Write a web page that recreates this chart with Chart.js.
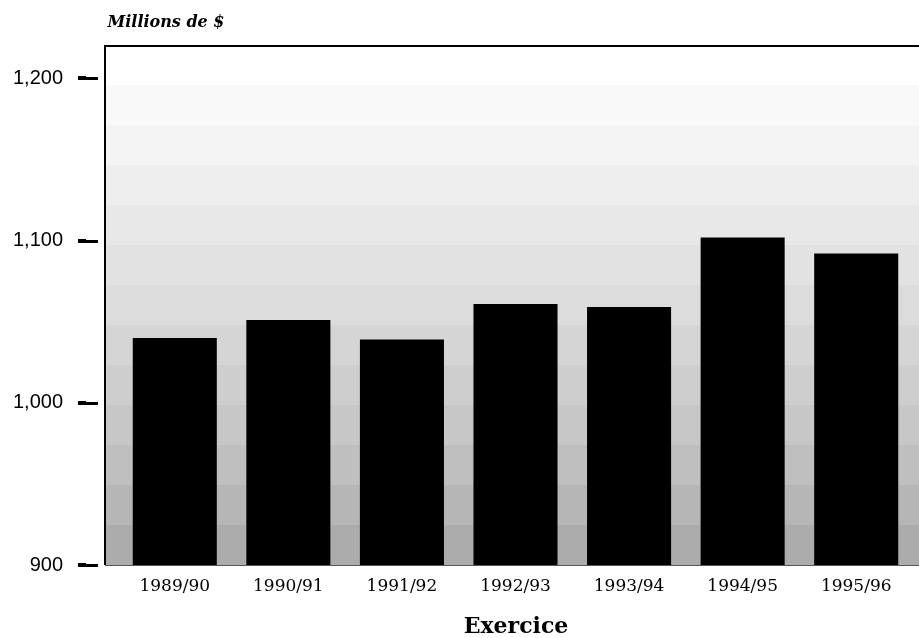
<!DOCTYPE html>
<html>
<head>
<meta charset="utf-8">
<script src="https://cdn.jsdelivr.net/npm/chart.js@4/dist/chart.umd.min.js"></script>
<style>
  html, body { margin: 0; padding: 0; background: #ffffff; }
  #c { display: block; }
</style>
</head>
<body>
<canvas id="c" width="919" height="638"></canvas>
<script>
// ---- data ----
const categories = ['1989/90', '1990/91', '1991/92', '1992/93', '1993/94', '1994/95', '1995/96'];
const values = [1040, 1051, 1039, 1061, 1059, 1102, 1092];
const yTickValues = [900, 1000, 1100, 1200];
const yTickLabels = ['900', '1,000', '1,100', '1,200'];
const yUnitLabel = 'Millions de $';
const xTitle = 'Exercice';

const FRAME_LEFT = 105;

const decor = {
  id: 'decor',
  beforeDatasetsDraw(chart) {
    const ctx = chart.ctx;
    const a = chart.chartArea;
    const right = chart.width;
    ctx.save();
    const bandTop = 85;
    const nb = 12;
    const bh = (a.bottom - bandTop) / nb;
    const shades = [249, 244, 238, 232, 226, 220, 213, 206, 199, 191, 182, 172];
    ctx.fillStyle = '#ffffff';
    ctx.fillRect(FRAME_LEFT, a.top, right - FRAME_LEFT, bandTop - a.top);
    for (let i = 0; i < nb; i++) {
      const s = shades[i];
      ctx.fillStyle = `rgb(${s},${s},${s})`;
      ctx.fillRect(FRAME_LEFT, bandTop + i * bh, right - FRAME_LEFT, bh + 0.5);
    }
    ctx.restore();
  },
  afterDraw(chart) {
    const ctx = chart.ctx;
    const a = chart.chartArea;
    const right = chart.width;
    const ys = chart.scales.y;
    ctx.save();
    ctx.strokeStyle = '#000';
    ctx.lineWidth = 2;
    ctx.beginPath();
    ctx.moveTo(FRAME_LEFT, a.bottom);
    ctx.lineTo(FRAME_LEFT, a.top);
    ctx.lineTo(right, a.top);
    ctx.stroke();
    ctx.strokeStyle = '#555';
    ctx.lineWidth = 1;
    ctx.beginPath();
    ctx.moveTo(FRAME_LEFT, a.bottom + 0.5);
    ctx.lineTo(right, a.bottom + 0.5);
    ctx.stroke();
    ctx.fillStyle = '#000';
    yTickValues.forEach(v => {
      const py = Math.round(ys.getPixelForValue(v));
      ctx.fillRect(78, py - 2, 8, 4);
      ctx.fillRect(86, py - 1, 12, 3);
    });
    ctx.font = 'italic bold 16px "DejaVu Serif"';
    ctx.textAlign = 'center';
    ctx.textBaseline = 'middle';
    ctx.fillStyle = '#000';
    ctx.fillText(yUnitLabel, 166, 23);
    ctx.font = 'bold 22px "DejaVu Serif"';
    ctx.fillText(xTitle, (FRAME_LEFT + right) / 2 + 4, 627);
    ctx.restore();
  }
};

new Chart(document.getElementById('c'), {
  type: 'bar',
  data: {
    labels: categories,
    datasets: [{
      data: values,
      backgroundColor: '#000000',
      borderWidth: 0,
      barPercentage: 0.74,
      categoryPercentage: 1.0
    }]
  },
  options: {
    responsive: false,
    animation: false,
    devicePixelRatio: 1,
    layout: { padding: { top: 46, right: 6, bottom: 0, left: 0 } },
    plugins: { legend: { display: false }, tooltip: { enabled: false }, title: { display: false } },
    scales: {
      x: {
        type: 'category',
        offset: true,
        grid: { display: false, drawTicks: false },
        border: { display: false },
        ticks: {
          color: '#000',
          font: { family: '"DejaVu Serif"', size: 17 },
          padding: 11,
          maxRotation: 0,
          autoSkip: false
        },
        afterFit(scale) { scale.height = 73; scale.paddingLeft = 0; scale.paddingRight = 0; }
      },
      y: {
        type: 'linear',
        min: 900,
        max: 1220,
        grid: { display: false, drawTicks: false },
        border: { display: false },
        afterBuildTicks(scale) { scale.ticks = yTickValues.map(v => ({ value: v })); },
        ticks: {
          color: '#000',
          font: { family: '"Liberation Sans"', size: 20 },
          padding: 55,
          callback(value) {
            const i = yTickValues.indexOf(value);
            return i >= 0 ? yTickLabels[i] : '';
          }
        },
        afterFit(scale) { scale.width = 118; scale.paddingTop = 0; scale.paddingBottom = 0; }
      }
    }
  },
  plugins: [decor]
});
</script>
</body>
</html>
